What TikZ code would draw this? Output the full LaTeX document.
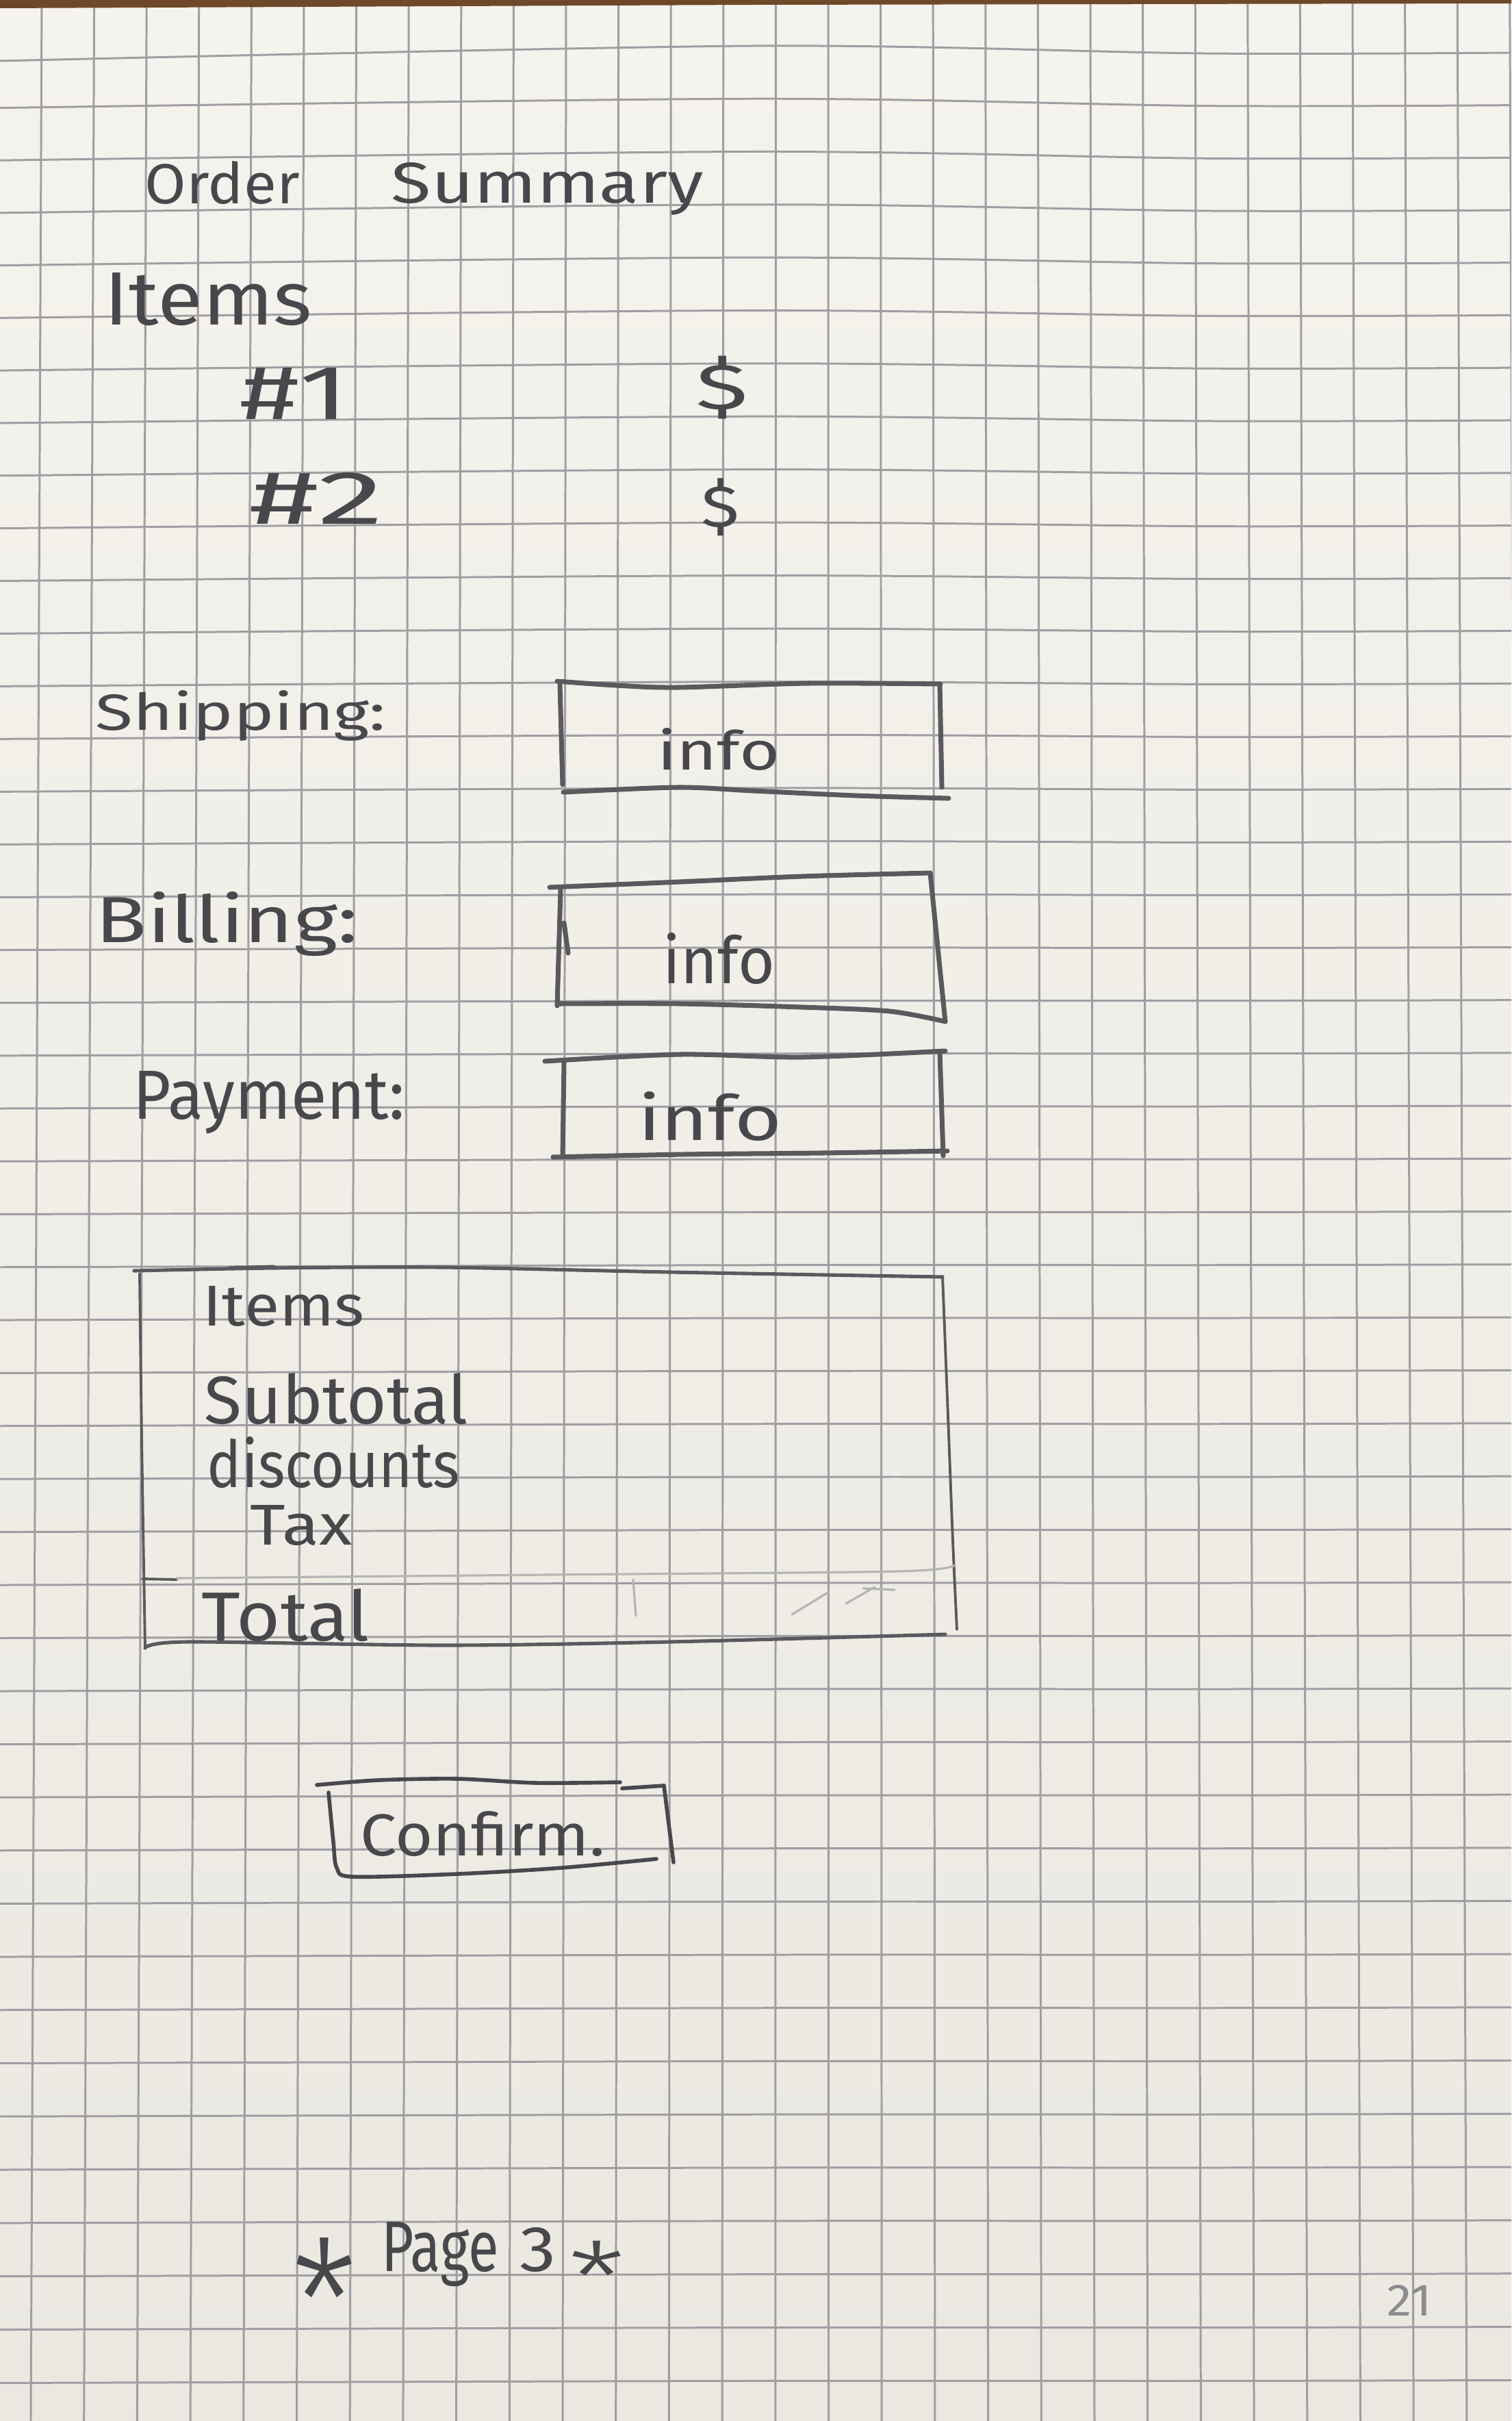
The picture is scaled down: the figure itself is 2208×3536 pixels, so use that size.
\documentclass[tikz,border=0pt]{standalone}
\usepackage{fontspec}
\usepackage{graphicx}
\newfontfamily\handfont{Fira Sans}
\newfontfamily\starfont{Fira Sans Light}
\newfontfamily\printfont{Fira Sans}
\newlength\pxu
\setlength\pxu{0.01cm}
% stretch a word to a given ink width and height above its baseline (in px units)
\newcommand\fitw[3]{\resizebox{#1\pxu}{#2\pxu}{#3}}
% stretch an asterisk, boxed round its ink, to a given width and height
\newcommand\fitstar[2]{\resizebox{#1\pxu}{#2\pxu}{\raisebox{-0.36em}[0.36em][0pt]{*}}}
\definecolor{papertop}{RGB}{245,243,237}
\definecolor{paperbot}{RGB}{234,232,225}
\definecolor{gridc}{RGB}{160,158,163}
\definecolor{lead}{RGB}{72,72,76}
\definecolor{leadsoft}{RGB}{90,90,94}
\definecolor{ghost}{RGB}{182,181,181}
\definecolor{spine}{RGB}{110,72,40}
\definecolor{folio}{RGB}{140,140,142}
\begin{document}
\begin{tikzpicture}[x=0.01cm,y=-0.01cm,
  gridline/.style={draw=gridc, line width=0.85pt},
  pencil/.style={draw=leadsoft, line width=2pt, line cap=round, line join=round},
  thinpencil/.style={draw=leadsoft, line width=1.45pt, line cap=round, line join=round},
  sidepencil/.style={draw=leadsoft, line width=1.1pt, line cap=round, line join=round},
  btn/.style={draw=lead, line width=1.6pt, line cap=round, line join=round},
  faint/.style={draw=ghost, line width=0.9pt, line cap=round},
  hand/.style={font=\handfont, text=lead, inner sep=0pt, anchor=base},
  star/.style={font=\starfont, text=lead, inner sep=0pt, anchor=center},
  printed/.style={font=\printfont, text=folio, inner sep=0pt, anchor=base}]

\useasboundingbox (0,0) rectangle (2208,3536);
\clip (0,0) rectangle (2208,3536);

% paper
\shade[top color=papertop, bottom color=paperbot] (0,0) rectangle (2208,3536);

% vertical rulings
\foreach \i in {0,...,28} {
  \pgfmathsetmacro\xt{61+76.6*\i}
  \pgfmathsetmacro\xb{45+77.7*\i}
  \draw[gridline] (\xt,0) -- (\xb,3536);
}
% horizontal rulings, slightly bowed near the top of the sheet
\foreach \k in {0,...,44} {
  \pgfmathsetmacro\yb{78+76.6*\k+0.015*\k*\k}
  \pgfmathsetmacro\m{11*max(0,1-\k/18)}
  \pgfmathsetmacro\yl{\yb+3+8*max(0,1-\k)}
  \pgfmathsetmacro\ym{\yb-\m}
  \pgfmathsetmacro\yr{\yb-1}
  \draw[gridline] plot[smooth] coordinates {(0,\yl) (1100,\ym) (1760,\yb) (2208,\yr)};
}

% top edge of the sheet
\fill[spine] (0,0) -- (2208,0) -- (2208,5) -- (1100,7) -- (0,12) -- cycle;

% heading
\node[hand] (order) at (325,297) {\fitw{226}{62}{Order}};
\node[hand] (summary) at (800,296) {\fitw{456}{59}{Summary}};

% item list
\node[hand] (items) at (304.5,474) {\fitw{303}{76}{Items}};
\node[hand] (itemone) at (430.5,612) {\fitw{159}{75}{\#1}};
\node[hand, anchor=center] (priceone) at (1054.5,566) {\resizebox*{77\pxu}{92\pxu}{\$}};
\node[hand] (itemtwo) at (463,765) {\fitw{196}{75}{\#2}};
\node[hand, anchor=center] (pricetwo) at (1052,741) {\resizebox*{56\pxu}{84\pxu}{\$}};

% shipping
\node[hand] (shipping) at (352,1066) {\fitw{424}{58}{Shipping:}};
\draw[pencil] plot[smooth] coordinates {(814,995) (900,1001) (990,1004) (1180,998) (1374,999)};
\draw[pencil] (1373,999) -- (1376,1150);
\draw[pencil] (818,1000) -- (822,1146);
\draw[pencil] plot[smooth] coordinates {(823,1157) (990,1150) (1100,1155) (1250,1162) (1386,1166)};
\node[hand] (shipinfo) at (1050,1124) {\fitw{180}{61}{info}};

% billing
\node[hand] (billing) at (331.5,1376) {\fitw{383}{74}{Billing:}};
\draw[pencil] plot[smooth] coordinates {(803,1296) (993,1288) (1171,1280) (1359,1275)};
\draw[pencil] (1359,1275) -- (1381,1492);
\draw[pencil] (819,1300) -- (814,1469);
\draw[pencil] (824,1348) -- (830,1392);
\draw[pencil] plot[smooth] coordinates {(814,1466) (993,1466) (1171,1471) (1300,1477) (1381,1492)};
\node[hand] (billinfo) at (1050,1436) {\fitw{164}{74}{info}};

% payment
\node[hand] (payment) at (393,1634) {\fitw{396}{70}{Payment:}};
\draw[pencil] plot[smooth] coordinates {(796,1550) (993,1540) (1171,1544) (1381,1535)};
\draw[pencil] (1373,1536) -- (1378,1688);
\draw[pencil] (824,1552) -- (822,1690);
\draw[pencil] plot[smooth] coordinates {(808,1690) (1000,1686) (1200,1684) (1384,1681)};
\node[hand] (payinfo) at (1037,1665) {\fitw{210}{71}{info}};

% totals panel
\draw[thinpencil] plot[smooth] coordinates {(196,1856) (400,1852) (647,1851) (979,1858) (1377,1865)};
\draw[thinpencil] (335,1852) -- (400,1850);
\draw[sidepencil] plot[smooth] coordinates {(1377,1864) (1385,2068) (1392,2250) (1398,2380)};
\draw[sidepencil] plot[smooth] coordinates {(204,1860) (207,2100) (212,2407)};
\draw[thinpencil] plot[smooth] coordinates {(212,2407) (274,2398) (647,2403) (979,2398) (1381,2387)};
\draw[sidepencil] (208,2306) -- (258,2307);
\draw[faint] plot[smooth] coordinates {(258,2305) (800,2300) (1311,2295) (1394,2286)};
\draw[faint] (925,2307) -- (929,2360);
\draw[faint] (1157,2358) -- (1211,2325);
\draw[faint] (1236,2342) -- (1278,2318);
\draw[faint] (1261,2320) -- (1307,2322);
\node[hand] (panelitems) at (414.5,1936) {\fitw{235}{58}{Items}};
\node[hand] (subtotal) at (491.5,2079) {\fitw{385}{74}{Subtotal}};
\node[hand] (discounts) at (487.5,2172) {\fitw{369}{74}{discounts}};
\node[hand] (tax) at (440.5,2256) {\fitw{149}{58}{Tax}};
\node[hand] (total) at (417.5,2396) {\fitw{245}{76}{Total}};

% confirm button
\draw[btn] plot[smooth] coordinates {(463,2607) (553,2600) (668,2598) (783,2604) (906,2603)};
\draw[btn] (909,2612) -- (970,2608);
\draw[btn] (970,2608) -- (984,2720);
\draw[btn] plot[smooth] coordinates {(480,2618) (487,2690) (492,2728) (515,2741) (668,2737) (821,2728) (959,2715)};
\node[hand] (confirm) at (705,2710) {\fitw{358}{65}{Confirm.}};

% page note
\node[star] (starleft) at (474.5,3317) {\fitstar{95}{90}};
\node[hand] (page) at (643,3317) {\fitw{172}{72}{Page}};
\node[hand] (pagenum) at (785.5,3317) {\fitw{53}{64}{3}};
\node[star] (starright) at (871.5,3301) {\fitstar{83}{52}};

% printed page number
\node[printed] (folio) at (2059,3382) {\fitw{66}{45}{21}};
\end{tikzpicture}
\end{document}
